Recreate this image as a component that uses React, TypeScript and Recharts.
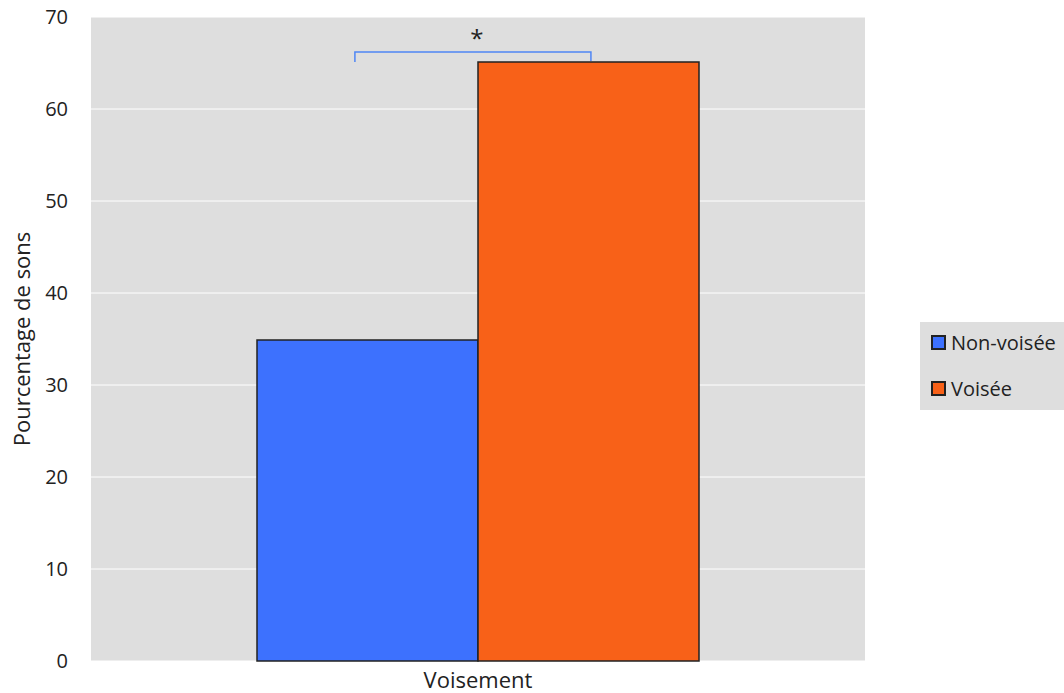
import React from 'react';
import {
  BarChart,
  Bar,
  XAxis,
  YAxis,
  CartesianGrid,
} from 'recharts';

// Chart values
const categories = ['Voisement'];
const nonVoisee = [34.9];
const voisee = [65.1];
const yTicks = [0, 10, 20, 30, 40, 50, 60, 70];

const seriesNames = ['Non-voisée', 'Voisée'];
const COLORS = ['#3d71fe', '#f86118'];

const FONT = '"Open Sans", "Noto Sans", sans-serif';

const data = categories.map((cat, i) => ({
  name: cat,
  nonVoisee: nonVoisee[i],
  voisee: voisee[i],
}));

// Significance bracket drawn relative to the orange bar
const SignifBracket = (props: any) => {
  const { x, y, width } = props;
  const left = x - width * 0.557;
  const right = x + width * 0.511;
  const top = y - 10;
  return (
    <g>
      <path
        d={`M${left},${y} L${left},${top} L${right},${top} L${right},${y - 1}`}
        fill="none"
        stroke="#4f86f5"
        strokeWidth={1.5}
      />
      <text
        x={(left + right) / 2 + 4}
        y={top - 5}
        textAnchor="middle"
        fontSize={24}
        fontFamily={FONT}
        fill="#222"
      >
        *
      </text>
    </g>
  );
};

// Legend box to the right of the plot
const LegendBox = () => (
  <div
    style={{
      position: 'absolute',
      left: 920,
      top: 322,
      background: '#dedede',
      width: 144,
      height: 88,
      boxSizing: 'border-box',
      paddingTop: 7,
      paddingLeft: 11,
      fontFamily: FONT,
      fontSize: 20,
      color: '#222',
    }}
  >
    {seriesNames.map((name, i) => (
      <div
        key={name}
        style={{ display: 'flex', alignItems: 'center', height: 26, marginBottom: i === 0 ? 20 : 0 }}
      >
        <div
          style={{
            width: 15,
            height: 15,
            background: COLORS[i],
            border: '2px solid #222',
            boxSizing: 'border-box',
            marginRight: 5,
          }}
        />
        <span style={{ whiteSpace: 'nowrap' }}>{name}</span>
      </div>
    ))}
  </div>
);

export default function App() {
  return (
    <div style={{ position: 'absolute', left: 0, top: 0, width: 1064, height: 693, background: '#fff' }}>
      <BarChart
        width={1064}
        height={693}
        data={data}
        margin={{ top: 17, right: 199, bottom: 0, left: 0 }}
        barGap={0}
        barCategoryGap={166}
      >
        <CartesianGrid vertical={false} stroke="#ffffff" fill="#dedede" />
        <XAxis
          dataKey="name"
          height={32}
          axisLine={false}
          tickLine={false}
          tick={{ fill: '#222', fontSize: 22, fontFamily: FONT }}
          tickMargin={5}
        />
        <YAxis
          width={91}
          domain={[0, 70]}
          ticks={yTicks}
          axisLine={false}
          tickLine={false}
          tickMargin={17}
          tick={{ fill: '#222', fontSize: 20, fontFamily: FONT }}
          label={{
            value: 'Pourcentage de sons',
            angle: -90,
            position: 'insideLeft',
            offset: 22,
            style: { textAnchor: 'middle', fill: '#222', fontSize: 22, fontFamily: FONT },
          }}
        />
        <Bar
          dataKey="nonVoisee"
          name={seriesNames[0]}
          fill={COLORS[0]}
          stroke="#222"
          strokeWidth={1.5}
          isAnimationActive={false}
        />
        <Bar
          dataKey="voisee"
          name={seriesNames[1]}
          fill={COLORS[1]}
          stroke="#222"
          strokeWidth={1.5}
          isAnimationActive={false}
          label={<SignifBracket />}
        />
      </BarChart>
      <LegendBox />
    </div>
  );
}
